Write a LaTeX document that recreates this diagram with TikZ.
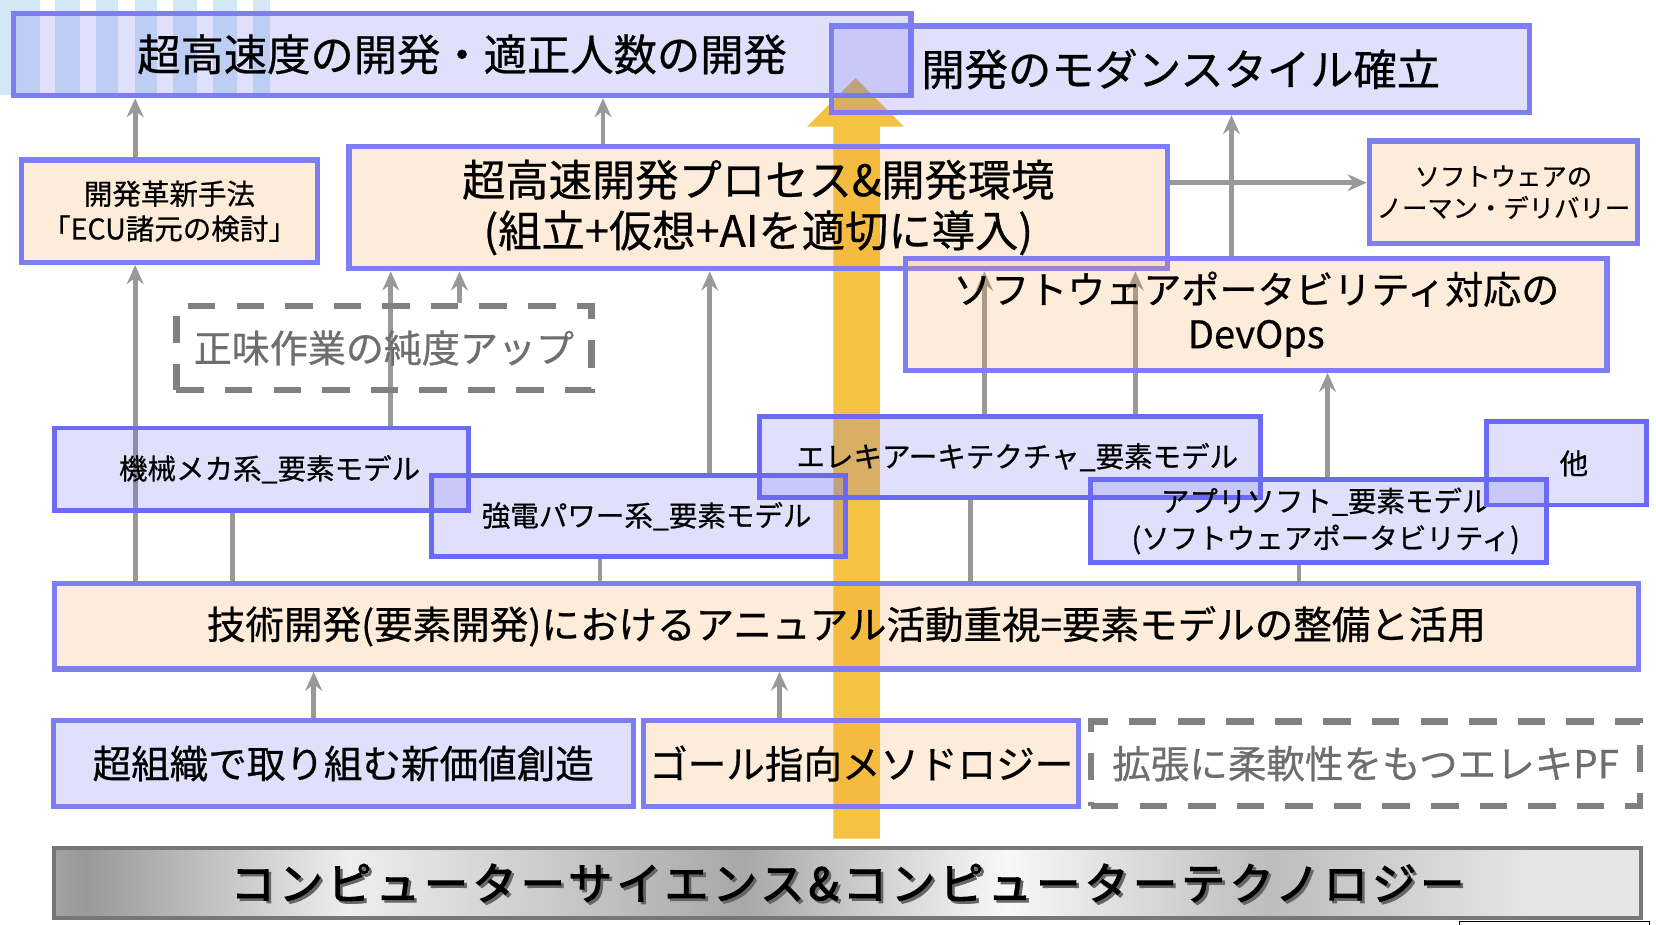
\documentclass[tikz,border=0pt]{standalone}
\usepackage{fontspec}
\setmainfont{Noto Sans CJK JP}[FakeBold=0.6]
\newfontfamily\qfont{Noto Sans CJK JP}[FakeBold=2.2, LetterSpace=9]
\usetikzlibrary{arrows.meta}
\definecolor{boxblue}{HTML}{6666EE}
\definecolor{boxorange}{HTML}{F5A040}
\definecolor{bordA}{HTML}{7E7EF2}
\definecolor{bordB}{HTML}{6A6AF5}
\definecolor{arrgray}{HTML}{999999}
\definecolor{dashgray}{HTML}{808080}
\definecolor{dashtext}{HTML}{6E6E6E}
\definecolor{yel}{HTML}{F5C242}
\definecolor{stripe}{HTML}{D2E9F5}
\definecolor{qborder}{HTML}{777777}
\definecolor{mA}{HTML}{A2A2A2}
\definecolor{mB}{HTML}{999999}
\definecolor{mC}{HTML}{EEEEEE}
\definecolor{mD}{HTML}{A8A8A8}
\definecolor{mE}{HTML}{F8F8F8}
\definecolor{mF}{HTML}{BDBDBD}
\definecolor{mG}{HTML}{E6E6E6}
\pgfdeclarehorizontalshading{metal}{100bp}{color(0bp)=(mA); color(25bp)=(mA); color(26bp)=(mB); color(34.3bp)=(mC); color(46.7bp)=(mD); color(55bp)=(mE); color(63.3bp)=(mF); color(71.6bp)=(mG); color(75bp)=(mG); color(100bp)=(mG)}
\pgfdeclarelayer{bg}
\pgfdeclarelayer{mid}
\pgfsetlayers{bg,mid,main}
\newcommand{\myfs}[2]{\fontsize{#1}{#2}\selectfont}
\tikzset{
  boxbase/.style={rectangle, inner sep=0pt, anchor=north west, align=center, text opacity=1, fill opacity=0.2},
  lavbox/.style={boxbase, draw=bordA, line width=5, fill=boxblue},
  peachbox/.style={boxbase, draw=bordA, line width=5, fill=boxorange},
  elembox/.style={boxbase, draw=bordB, line width=4.5, fill=boxblue},
  dashbox/.style={rectangle, inner sep=0pt, anchor=north west, align=center, draw=dashgray, line width=6, dash pattern=on 26 off 20, text=dashtext},
  metalbox/.style={rectangle, inner sep=0pt, anchor=north west, draw=qborder, line width=4, shading=metal},
  garrow/.style={draw=arrgray, line width=4.5, -{Stealth[length=18,width=16,inset=6]}},
  gline/.style={draw=arrgray, line width=4.5},
}
\begin{document}
\begin{tikzpicture}[x=1pt,y=-1pt]
\useasboundingbox (0,0) rectangle (1568,875);

% stripes behind the top-left box
\begin{pgfonlayer}{bg}
\foreach \a/\b in {0/38,52/76,91/112,128/149,164/187,202/224,240/256}
  \fill[stripe] (\a,0) rectangle (\b,90);
\end{pgfonlayer}

% boxes
\node[lavbox, minimum width=850, minimum height=78, font=\myfs{41}{48}] (A) at (10,10) {超高速度の開発・適正人数の開発};
\node[lavbox, minimum width=661, minimum height=82, font=\myfs{41}{48}] (B) at (785,22) {開発のモダンスタイル確立};
\node[peachbox, minimum width=280, minimum height=97, font=\myfs{27}{33}] (C) at (18,149) {開発革新手法\\「ECU諸元の検討」};
\node[peachbox, minimum width=775, minimum height=116, font=\myfs{41}{48}] (D) at (328,136) {超高速開発プロセス\&開発環境\\(組立+仮想+AIを適切に導入)};
\node[peachbox, minimum width=254, minimum height=97, font=\myfs{24}{30}] (E) at (1294,131) {ソフトウェアの\\ノーマン・デリバリー};
\node[peachbox, minimum width=664, minimum height=106, font=\myfs{36}{42}] (F) at (855,242) {ソフトウェアポータビリティ対応の\\DevOps};
\node[dashbox, minimum width=393, minimum height=79, font=\myfs{36}{42}] (G) at (164,287) {正味作業の純度アップ};
\node[elembox, minimum width=392, minimum height=78, font=\myfs{27}{33}] (H) at (49,403) {\hspace*{16pt}機械メカ系\_要素モデル};
\node[elembox, minimum width=392, minimum height=77, font=\myfs{27}{33}] (I) at (406,448) {\hspace*{16pt}強電パワー系\_要素モデル};
\node[elembox, minimum width=474, minimum height=77, font=\myfs{27}{33}] (J) at (717,392) {\hspace*{14pt}エレキアーキテクチャ\_要素モデル};
\node[elembox, minimum width=432, minimum height=78, font=\myfs{27}{35}] (L) at (1030,452) {\hspace*{14pt}アプリソフト\_要素モデル\\\hspace*{14pt}(ソフトウェアポータビリティ)};
\node[elembox, minimum width=152, minimum height=79, font=\myfs{27}{33}] (K) at (1405,397) {\hspace*{14pt}他};
\node[peachbox, minimum width=1500, minimum height=81, font=\myfs{36.5}{42}] (M) at (49,550) {技術開発(要素開発)におけるアニュアル活動重視=要素モデルの整備と活用};
\node[lavbox, minimum width=549, minimum height=81, font=\myfs{36.5}{42}] (N) at (48,680) {超組織で取り組む新価値創造};
\node[peachbox, minimum width=412, minimum height=81, font=\myfs{36.5}{42}] (O) at (607,680) {ゴール指向メソドロジー};
\node[dashbox, minimum width=520, minimum height=80, font=\myfs{36.5}{42}] (P) at (1030,680) {拡張に柔軟性をもつエレキPF};
\node[metalbox, minimum width=1503, minimum height=66] (Q) at (49,801) {};
\node[font=\qfont\myfs{42}{48}, text=black!60, inner sep=0pt] (Qs) at ([xshift=2.5pt,yshift=-2.5pt]Q.center) {コンピューターサイエンス\&コンピューターテクノロジー};
\node[font=\qfont\myfs{42}{48}, text=black, inner sep=0pt] (Qt) at (Q.center) {コンピューターサイエンス\&コンピューターテクノロジー};

% connectors and the big arrow, under the boxes
\begin{pgfonlayer}{mid}
\draw[garrow] (C.north -| 128,0) -- (A.south -| 128,0);
\draw[garrow] (D.north -| 571,0) -- (A.south -| 571,0);
\draw[garrow] (F.north -| 1166,0) -- (B.south -| 1166,0);
\draw[garrow] (D.east |- 0,173) -- (E.west |- 0,173);
\draw[garrow] (M.north -| 128,0) -- (C.south -| 128,0);
\draw[gline] (M.north -| 220,0) -- (H.south -| 220,0);
\draw[garrow] (H.north -| 370,0) -- (D.south -| 370,0);
\draw[garrow] (G.north -| 435,0) -- (D.south -| 435,0);
\draw[garrow] (I.north -| 672,0) -- (D.south -| 672,0);
\draw[gline] (M.north -| 568,0) -- (I.south -| 568,0);
\draw[gline] (M.north -| 919,0) -- (J.south -| 919,0);
\draw[garrow] (J.north -| 932,0) -- (D.south -| 932,0);
\draw[garrow] (J.north -| 1075,0) -- (D.south -| 1075,0);
\draw[gline] (M.north -| 1230,0) -- (L.south -| 1230,0);
\draw[garrow] (L.north -| 1257,0) -- (F.south -| 1257,0);
\draw[garrow] (N.north -| 297,0) -- (M.south -| 297,0);
\draw[garrow] (O.north -| 738,0) -- (M.south -| 738,0);
\fill[yel] (789,794) -- (833,794) -- (833,120) -- (856,120) -- (810,74) -- (764,120) -- (789,120) -- cycle;
\end{pgfonlayer}

% small frame at the lower right corner
\draw[black, line width=1.5] (1382,876) -- (1382,872.5) -- (1562,872.5) -- (1562,876);
\end{tikzpicture}
\end{document}
